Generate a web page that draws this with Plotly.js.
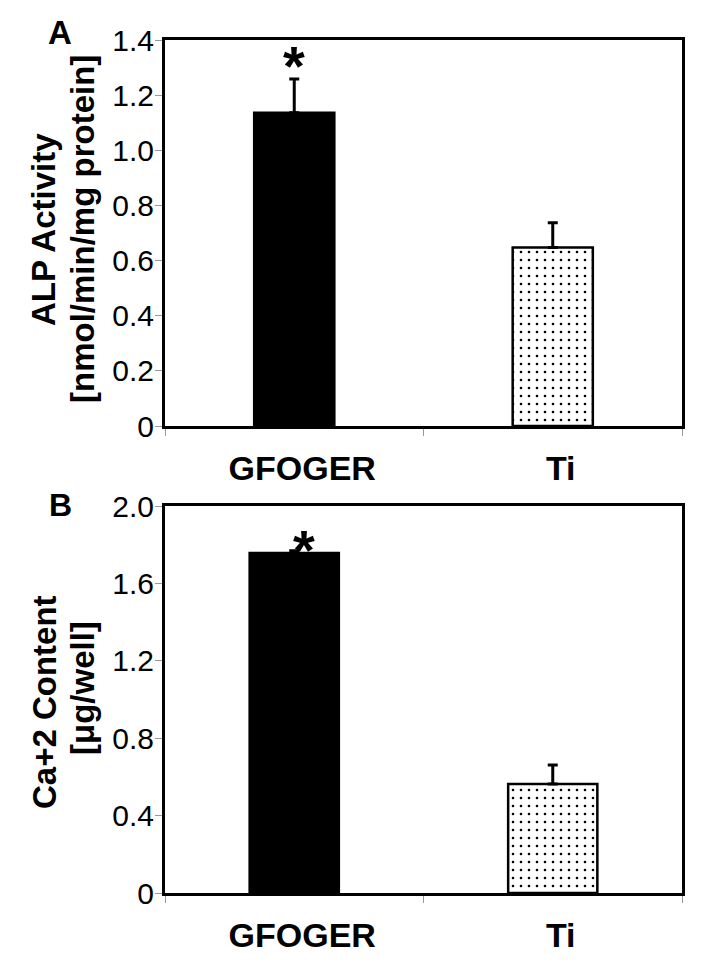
<!DOCTYPE html>
<html><head><meta charset="utf-8">
<script src="https://cdn.plot.ly/plotly-3.0.1.min.js"></script>
<style>html,body{margin:0;padding:0;background:#fff}</style>
</head><body><div id="chart" style="width:717px;height:962px"></div>
<script>
const categories = ['GFOGER', 'Ti'];
const alpValues = [1.136, 0.647];
const alpErrors = [0.123, 0.090];
const caValues = [1.757, 0.563];
const caErrors = [0.012, 0.098];
const alpTickVals = [0, 0.2, 0.4, 0.6, 0.8, 1.0, 1.2, 1.4];
const alpTickText = ['0', '0.2', '0.4', '0.6', '0.8', '1.0', '1.2', '1.4'];
const caTickVals = [0, 0.4, 0.8, 1.2, 1.6, 2.0];
const caTickText = ['0', '0.4', '0.8', '1.2', '1.6', '2.0'];
const barFill = ['#000000', '#ffffff'];
const barPattern = ['', '.'];
const alpTitle = ['ALP Activity', '[nmol/min/mg protein]'];
const caTitle = ['Ca+2 Content', '[μg/well]'];
const sigMark = '*';

const FONT = 'Liberation Sans, Arial, sans-serif';
const W = 717, H = 962;
const px = v => v / W;
const py = v => (H - v) / H;

function barTraces(vals, errs, xa, ya, width) {
  return categories.map((c, i) => ({
    type: 'bar', x: [c], y: [vals[i]], xaxis: xa, yaxis: ya, width: width,
    marker: {
      color: barFill[i],
      line: {color: '#000', width: 2.5},
      pattern: {shape: barPattern[i], fgcolor: '#000', bgcolor: '#fff', size: 8, solidity: 0.085, fillmode: 'replace'}
    },
    error_y: {type: 'data', symmetric: false, array: [errs[i]], arrayminus: [0], color: '#000', thickness: 3, width: 5},
    hoverinfo: 'skip', showlegend: false
  }));
}

const xCommon = {
  type: 'category', range: [-0.5, 1.5], showline: true, linewidth: 3, linecolor: '#000', mirror: true,
  ticks: 'outside', tickson: 'boundaries', ticklen: 7, tickwidth: 1, tickcolor: '#999',
  tickfont: {family: FONT, size: 34, color: '#000', weight: 'bold'}, ticklabelshift: 8, ticklabelstandoff: 10,
  showgrid: false, zeroline: false, fixedrange: true
};
const yCommon = {
  showline: true, linewidth: 3, linecolor: '#000', mirror: true,
  ticks: 'outside', ticklen: 7, tickwidth: 1, tickcolor: '#999', tickmode: 'array',
  tickfont: {family: FONT, size: 30, color: '#000'}, ticklabelstandoff: -5,
  showgrid: false, zeroline: false, fixedrange: true
};

function note(text, x, y, size, extra) {
  return Object.assign({text: text, xref: 'paper', yref: 'paper', x: px(x), y: py(y), xanchor: 'center', yanchor: 'middle',
    showarrow: false, font: {family: FONT, size: size, weight: 'bold', color: '#000'}}, extra || {});
}

const xd = [px(165), px(682)];
const layout = {
  width: W, height: H, margin: {l: 0, r: 0, t: 0, b: 0},
  paper_bgcolor: '#fff', plot_bgcolor: '#fff', barmode: 'overlay',
  xaxis: Object.assign({}, xCommon, {domain: xd, anchor: 'y'}),
  yaxis: Object.assign({}, yCommon, {domain: [py(426), py(40)], anchor: 'x', range: [0, 1.4], tickvals: alpTickVals, ticktext: alpTickText}),
  xaxis2: Object.assign({}, xCommon, {domain: xd, anchor: 'y2'}),
  yaxis2: Object.assign({}, yCommon, {domain: [py(893), py(506)], anchor: 'x2', range: [0, 2.0], tickvals: caTickVals, ticktext: caTickText}),
  annotations: [
    note('A', 60, 33, 33),
    note('B', 60, 505, 32),
    note(alpTitle[0], 44, 230, 33, {textangle: -90}),
    note(alpTitle[1], 82, 229, 33, {textangle: -90}),
    note(caTitle[0], 44, 702, 33, {textangle: -90}),
    note(caTitle[1], 82, 688, 33, {textangle: -90}),
    {text: sigMark, xref: 'x', yref: 'y', x: categories[0], y: alpValues[0] + alpErrors[0], xanchor: 'center', yanchor: 'bottom', yshift: -20, showarrow: false, font: {family: FONT, size: 56, weight: 'bold', color: '#000'}},
    {text: sigMark, xref: 'x2', yref: 'y2', x: categories[0], y: caValues[0] + caErrors[0], xanchor: 'center', yanchor: 'bottom', xshift: 10, yshift: -32, showarrow: false, font: {family: FONT, size: 56, weight: 'bold', color: '#000'}}
  ]
};

Plotly.newPlot('chart',
  barTraces(alpValues, alpErrors, 'x', 'y', 0.31).concat(barTraces(caValues, caErrors, 'x2', 'y2', 0.345)),
  layout, {staticPlot: true, displayModeBar: false});
</script></body></html>
